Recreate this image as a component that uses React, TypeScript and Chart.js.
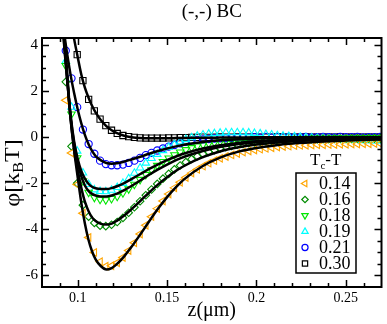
import React, { useEffect, useRef } from "react";
import { Chart, registerables } from "chart.js";
import { drawPoint } from "chart.js/helpers";
Chart.register(...registerables);

const SERIF = '"Liberation Serif", "Times New Roman", serif';

// ---- data ----
const SERIES_LABELS = ["0.14", "0.16", "0.18", "0.19", "0.21", "0.30"];

const FIT_Z = [0.090, 0.092, 0.094, 0.096, 0.098, 0.100, 0.102, 0.104, 0.106, 0.108, 0.110, 0.113, 0.116, 0.119, 0.122, 0.126, 0.130, 0.135, 0.140, 0.145, 0.150, 0.155, 0.160, 0.170, 0.180, 0.190, 0.200, 0.210, 0.220, 0.235, 0.250, 0.270];
const FIT_014 = [7.5, 4.9, 2.9, 0.8, -0.6, -1.75, -2.85, -3.75, -4.45, -4.95, -5.3, -5.6, -5.74, -5.68, -5.5, -5.17, -4.77, -4.22, -3.65, -3.1, -2.6, -2.17, -1.8, -1.25, -0.88, -0.63, -0.47, -0.36, -0.28, -0.2, -0.15, -0.1];
const FIT_016 = [7.3, 4.7, 2.7, 0.8, -0.5, -1.45, -2.2, -2.8, -3.2, -3.48, -3.64, -3.76, -3.79, -3.75, -3.62, -3.4, -3.13, -2.77, -2.4, -2.05, -1.74, -1.46, -1.23, -0.87, -0.61, -0.44, -0.32, -0.24, -0.18, -0.12, -0.08, -0.05];
const FIT_018 = [7.0, 4.5, 2.6, 0.9, -0.3, -1.1, -1.7, -2.1, -2.33, -2.46, -2.53, -2.57, -2.57, -2.53, -2.45, -2.3, -2.12, -1.88, -1.63, -1.4, -1.19, -1.0, -0.84, -0.6, -0.42, -0.3, -0.22, -0.16, -0.12, -0.08, -0.06, -0.04];
const FIT_019 = [6.9, 4.4, 2.55, 0.95, -0.2, -0.95, -1.47, -1.8, -2.02, -2.15, -2.22, -2.25, -2.25, -2.21, -2.13, -1.99, -1.82, -1.6, -1.38, -1.18, -1.0, -0.84, -0.7, -0.49, -0.35, -0.25, -0.18, -0.13, -0.1, -0.07, -0.05, -0.03];
const FIT_021 = [6.0, 4.75, 3.65, 2.7, 1.9, 1.2, 0.6, 0.1, -0.3, -0.6, -0.82, -1.01, -1.12, -1.15, -1.13, -1.06, -0.97, -0.85, -0.72, -0.6, -0.49, -0.4, -0.32, -0.21, -0.14, -0.09, -0.06, -0.04, -0.03, -0.02, -0.01, 0];
const FIT_030 = [9.0, 7.6, 6.3, 5.2, 4.25, 3.47, 2.72, 2.15, 1.72, 1.36, 1.07, 0.73, 0.48, 0.3, 0.17, 0.06, 0.0, -0.04, -0.05, -0.05, -0.05, -0.04, -0.035, -0.025, -0.02, -0.015, -0.01, -0.008, -0.005, 0, 0, 0];

const MARK_Z = [0.0933, 0.0965, 0.0997, 0.1029, 0.1061, 0.1093, 0.1125, 0.1157, 0.1189, 0.1221, 0.1253, 0.1285, 0.1317, 0.1349, 0.1381, 0.1413, 0.1445, 0.1477, 0.1509, 0.1541, 0.1573, 0.1605, 0.1637, 0.1669, 0.1701, 0.1733, 0.1765, 0.1797, 0.1829, 0.1861, 0.1893, 0.1925, 0.1957, 0.1989, 0.2021, 0.2053, 0.2085, 0.2117, 0.2149, 0.2181, 0.2213, 0.2245, 0.2277, 0.2309, 0.2341, 0.2373, 0.2405, 0.2437, 0.2469, 0.2501, 0.2533, 0.2565, 0.2597, 0.2629, 0.2661, 0.2693];
const MARK_014 = [1.6, -0.69, -2.05, -3.3, -4.35, -5.0, -5.4, -5.6, -5.58, -5.45, -5.22, -4.92, -4.58, -4.2, -3.82, -3.45, -3.1, -2.77, -2.47, -2.2, -1.96, -1.75, -1.56, -1.4, -1.26, -1.13, -1.02, -0.92, -0.84, -0.77, -0.71, -0.65, -0.6, -0.56, -0.52, -0.49, -0.46, -0.43, -0.41, -0.39, -0.37, -0.36, -0.35, -0.34, -0.33, -0.33, -0.32, -0.32, -0.31, -0.31, -0.3, -0.3, -0.29, -0.29, -0.28, -0.28];
const MARK_016 = [2.4, -0.4, -2.0, -2.95, -3.45, -3.72, -3.84, -3.86, -3.8, -3.68, -3.5, -3.28, -3.04, -2.78, -2.52, -2.27, -2.03, -1.8, -1.59, -1.4, -1.23, -1.08, -0.95, -0.83, -0.73, -0.64, -0.56, -0.49, -0.43, -0.38, -0.33, -0.29, -0.26, -0.23, -0.2, -0.18, -0.16, -0.14, -0.12, -0.11, -0.1, -0.09, -0.09, -0.08, -0.08, -0.07, -0.07, -0.06, -0.06, -0.06, -0.05, -0.05, -0.05, -0.04, -0.04, -0.04];
const MARK_018 = [3.1, 1.0, -0.9, -1.9, -2.4, -2.62, -2.7, -2.72, -2.67, -2.57, -2.42, -2.25, -2.05, -1.84, -1.62, -1.42, -1.23, -1.06, -0.91, -0.77, -0.65, -0.55, -0.46, -0.39, -0.33, -0.28, -0.24, -0.2, -0.17, -0.15, -0.13, -0.12, -0.11, -0.1, -0.1, -0.09, -0.09, -0.08, -0.08, -0.08, -0.07, -0.07, -0.07, -0.06, -0.06, -0.06, -0.06, -0.05, -0.05, -0.05, -0.05, -0.05, -0.04, -0.04, -0.04, -0.04];
const MARK_019 = [3.3, 1.3, -0.6, -1.55, -2.05, -2.28, -2.35, -2.36, -2.3, -2.18, -2.0, -1.8, -1.56, -1.33, -1.12, -0.92, -0.74, -0.58, -0.44, -0.32, -0.2, -0.1, -0.02, 0.05, 0.1, 0.14, 0.16, 0.18, 0.2, 0.2, 0.2, 0.2, 0.19, 0.17, 0.15, 0.12, 0.1, 0.07, 0.05, 0.03, 0.02, 0.0, -0.02, -0.03, -0.05, -0.06, -0.08, -0.09, -0.1, -0.12, -0.13, -0.14, -0.15, -0.15, -0.16, -0.16];
const MARK_021 = [3.75, 2.55, 1.3, 0.33, -0.3, -0.72, -1.02, -1.17, -1.22, -1.22, -1.19, -1.12, -1.02, -0.9, -0.78, -0.68, -0.58, -0.49, -0.41, -0.34, -0.27, -0.2, -0.15, -0.12, -0.1, -0.08, -0.06, -0.05, -0.05, -0.04, -0.03, -0.03, -0.02, 0.0, -0.02, 0.01, -0.02, 0.0, -0.01, 0.01, -0.01, 0.0, 0.01, -0.01, 0.0, 0.01, 0.0, -0.01, 0.01, 0.0, 0.0, 0.01, -0.01, 0.0, 0.0, 0.01];
const MARK_030 = [null, null, 3.58, 2.45, 1.64, 1.14, 0.78, 0.5, 0.3, 0.16, 0.07, 0.02, -0.01, -0.03, -0.04, -0.04, -0.04, -0.04, -0.03, -0.03, -0.02, -0.02, -0.01, -0.01, 0.0, -0.01, 0.0, 0.01, 0.0, 0.0, 0.01, 0.0, 0.0, 0.01, 0.0, 0.0, 0.0, 0.01, 0.0, 0.0, 0.0, 0.0, 0.01, 0.0, 0.0, 0.0, 0.0, 0.0, 0.01, 0.0, 0.0, 0.0, 0.0, 0.0, 0.0, 0.0];

const X_TICKS = [0.1, 0.15, 0.2, 0.25];
const X_TICK_LABELS = ["0.1", "0.15", "0.2", "0.25"];
const Y_TICKS = [4, 2, 0, -2, -4, -6];
const Y_TICK_LABELS = ["4", "2", "0", "-2", "-4", "-6"];

// ---- styles ----
const FITS = [FIT_014, FIT_016, FIT_018, FIT_019, FIT_021, FIT_030];
const MARKS = [MARK_014, MARK_016, MARK_018, MARK_019, MARK_021, MARK_030];
const COLORS = ["#FFA500", "#008B00", "#00E600", "#00FFFF", "#0000FF", "#000000"];
const STYLES = ["triangle", "rectRot", "triangle", "triangle", "circle", "rect"];
const ROTATIONS = [-90, 0, 180, 0, 0, 0];
const RADII = [4.3, 3.8, 4.3, 4.3, 3.6, 4.4];

const axesPlugin = {
  id: "customAxes",
  afterDraw(chart: any) {
    const { ctx, chartArea: a, scales } = chart;
    const xs = scales.x, ys = scales.y;
    ctx.save();
    // frame
    ctx.strokeStyle = "#000";
    ctx.lineWidth = 2;
    ctx.strokeRect(a.left, a.top, a.right - a.left, a.bottom - a.top);
    // ticks
    ctx.lineWidth = 1.5;
    for (let k = 9; k <= 26; k++) {
      const px = Math.round(xs.getPixelForValue(k / 100)) + 0.5;
      const len = k % 5 === 0 ? 7 : 4;
      ctx.beginPath();
      ctx.moveTo(px, a.bottom); ctx.lineTo(px, a.bottom - len);
      ctx.moveTo(px, a.top); ctx.lineTo(px, a.top + len);
      ctx.stroke();
    }
    for (let k = -12; k <= 8; k++) {
      const py = Math.round(ys.getPixelForValue(k * 0.5)) + 0.5;
      const len = k % 4 === 0 ? 7 : 4;
      ctx.beginPath();
      ctx.moveTo(a.left, py); ctx.lineTo(a.left + len, py);
      ctx.moveTo(a.right, py); ctx.lineTo(a.right - len, py);
      ctx.stroke();
    }
    // tick labels
    ctx.fillStyle = "#000";
    ctx.font = `14px ${SERIF}`;
    ctx.textAlign = "center";
    ctx.textBaseline = "middle";
    X_TICKS.forEach((v, i) => ctx.fillText(X_TICK_LABELS[i], xs.getPixelForValue(v), a.bottom + 11));
    ctx.font = `15px ${SERIF}`;
    ctx.textAlign = "right";
    Y_TICKS.forEach((v, i) => ctx.fillText(Y_TICK_LABELS[i], a.left - 4, ys.getPixelForValue(v)));
    // title
    ctx.font = `19px ${SERIF}`;
    ctx.textAlign = "center";
    ctx.fillText("(-,-) BC", (a.left + a.right) / 2, 12);
    // x label
    ctx.font = `20px ${SERIF}`;
    ctx.fillText("z(\u03bcm)", (a.left + a.right) / 2, 311);
    // y label with subscript
    ctx.save();
    ctx.translate(13, 173);
    ctx.rotate(-Math.PI / 2);
    ctx.scale(1.15, 1);
    ctx.textAlign = "left";
    ctx.textBaseline = "middle";
    const big = `21px ${SERIF}`, small = `14px ${SERIF}`;
    ctx.font = big; const w1 = ctx.measureText("\u03c6[k").width; const w3 = ctx.measureText("T]").width;
    ctx.font = small; const w2 = ctx.measureText("B").width;
    let x0 = -(w1 + w2 + w3) / 2;
    ctx.font = big; ctx.fillText("\u03c6[k", x0, 0); x0 += w1;
    ctx.font = small; ctx.fillText("B", x0, 6); x0 += w2;
    ctx.font = big; ctx.fillText("T]", x0, 0);
    ctx.restore();
    // legend
    const lx = 296, ly = 173, lw = 60, lh = 100;
    ctx.fillStyle = "#fff";
    ctx.fillRect(lx, ly, lw, lh);
    ctx.strokeStyle = "#000";
    ctx.lineWidth = 1.5;
    ctx.strokeRect(lx, ly, lw, lh);
    ctx.fillStyle = "#000";
    ctx.textAlign = "left";
    ctx.textBaseline = "middle";
    ctx.font = `17px ${SERIF}`;
    const tw = ctx.measureText("T").width;
    ctx.fillText("T", 310, 161);
    ctx.font = `11px ${SERIF}`;
    const cw = ctx.measureText("c").width;
    ctx.fillText("c", 310 + tw, 166);
    ctx.font = `17px ${SERIF}`;
    ctx.fillText("-T", 310 + tw + cw, 161);
    ctx.font = `18px ${SERIF}`;
    SERIES_LABELS.forEach((lab, i) => {
      const y = 183.5 + i * 16;
      ctx.strokeStyle = COLORS[i];
      ctx.fillStyle = "rgba(0,0,0,0)";
      ctx.lineWidth = 1.2;
      drawPoint(ctx, { pointStyle: STYLES[i], radius: RADII[i] * 0.85, rotation: ROTATIONS[i], borderWidth: 1.2 } as any, 305, y);
      ctx.fillStyle = "#000";
      ctx.fillText(lab, 319, y + 1);
    });
    ctx.restore();
  },
};

export default function App() {
  const ref = useRef<HTMLCanvasElement>(null);
  useEffect(() => {
    document.body.style.margin = "0";
    const canvas = ref.current!;
    const markerSets = MARKS.map((arr, i) => ({
      label: SERIES_LABELS[i],
      data: MARK_Z.map((z, j) => ({ x: z, y: arr[j] })).filter((p) => p.y !== null),
      showLine: false,
      pointStyle: STYLES[i],
      pointRotation: ROTATIONS[i],
      pointRadius: RADII[i],
      pointBorderColor: COLORS[i],
      pointBackgroundColor: "transparent",
      backgroundColor: "transparent",
      pointBorderWidth: 1.1,
      borderColor: COLORS[i],
      order: 2,
    }));
    const fitSets = FITS.map((arr, i) => ({
      label: "fit " + SERIES_LABELS[i],
      data: FIT_Z.map((z, j) => ({ x: z, y: arr[j] })),
      showLine: true,
      borderColor: "#000",
      borderWidth: 2.5,
      pointRadius: 0,
      cubicInterpolationMode: "monotone",
      fill: false,
      order: 1,
    }));
    const chart = new Chart(canvas, {
      type: "line",
      data: { datasets: [...markerSets, ...fitSets] as any },
      options: {
        responsive: false,
        animation: false,
        devicePixelRatio: 1,
        layout: { padding: { left: 42, right: 4, top: 38, bottom: 37 } },
        scales: {
          x: { type: "linear", min: 0.08, max: 0.27, display: false },
          y: { type: "linear", min: -6.5, max: 4.3, display: false },
        },
        plugins: { legend: { display: false }, tooltip: { enabled: false }, title: { display: false } },
      },
      plugins: [axesPlugin],
    });
    return () => chart.destroy();
  }, []);
  return (
    <div style={{ width: 387, height: 324 }}>
      <canvas ref={ref} width={387} height={324} style={{ display: "block" }} />
    </div>
  );
}
